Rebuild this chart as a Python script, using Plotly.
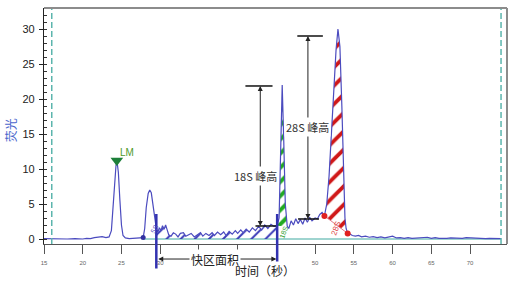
import numpy as np
import plotly.graph_objects as go

# ---- data ----
time_s = [15.0, 16.0, 17.0, 18.0, 19.0, 20.0, 20.5, 21.0, 21.5, 22.0, 22.5, 23.0, 23.4, 23.7, 23.9,
          24.1, 24.3, 24.45, 24.6, 24.8, 25.0, 25.2, 25.5, 26.0, 26.5, 27.0, 27.5, 27.8, 28.0, 28.2,
          28.45, 28.65, 28.85, 29.05, 29.25, 29.5, 29.7, 29.9, 30.1, 30.3, 30.5, 30.7, 30.9, 31.1,
          31.4, 31.7, 32.0, 32.3, 32.6, 33.0, 33.3, 33.7, 34.0, 34.4, 34.8, 35.2, 35.5, 35.9, 36.3,
          36.7, 37.0, 37.4, 37.8, 38.2, 38.5, 38.9, 39.3, 39.7, 40.0, 40.4, 40.7, 41.1, 41.5, 41.9,
          42.3, 42.7, 43.1, 43.5, 43.9, 44.3, 44.7, 45.1, 45.35, 45.55, 45.75, 45.95, 46.15, 46.4,
          46.6, 46.9, 47.2, 47.5, 47.8, 48.1, 48.4, 48.7, 49.0, 49.3, 49.6, 50.0, 50.3, 50.6, 50.9,
          51.2, 51.5, 51.8, 52.1, 52.4, 52.7, 52.95, 53.2, 53.45, 53.65, 53.85, 54.0, 54.2, 54.5,
          54.8, 55.2, 55.6, 56.0, 56.5, 57.0, 57.5, 58.0, 58.5, 59.0, 59.5, 60.0, 60.5, 61.0, 61.5,
          62.0, 62.5, 63.0, 63.5, 64.0, 64.5, 65.0, 65.5, 66.0, 66.5, 67.0, 67.5, 68.0, 68.5, 69.0,
          69.5, 70.0, 70.5, 71.0, 71.5, 72.0, 72.5, 73.0, 74.0]
fluor = [0.05, 0.0, 0.05, 0.0, 0.05, 0.0, 0.1, 0.05, 0.2, 0.25, 0.35, 0.2, 0.3, 1.2, 4.0,
         8.0, 10.6, 10.9, 9.5, 5.5, 2.0, 0.5, 0.15, 0.05, 0.1, 0.05, 0.15, 0.2, 1.5, 4.5,
         6.5, 7.0, 6.6, 5.0, 2.8, 1.5, 1.0, 1.6, 1.2, 1.9, 1.4, 2.0, 1.3, 0.6,
         0.4, 0.9, 0.7, 0.3, 0.8, 0.9, 0.4, 0.7, 0.8, 0.3, 0.6, 0.9, 0.4, 0.8, 0.5,
         0.9, 0.5, 1.0, 0.6, 1.0, 0.5, 1.1, 0.7, 1.2, 0.8, 1.3, 0.9, 1.4, 1.0, 1.6,
         1.2, 1.8, 1.3, 2.0, 1.5, 2.1, 1.8, 1.9, 3.0, 12.0, 22.0, 14.0, 5.0, 1.8,
         1.5, 2.6, 2.0, 2.9, 2.2, 2.8, 2.1, 3.0, 2.4, 3.1, 2.6, 3.0, 2.9, 3.5, 3.8,
         3.3, 5.0, 9.0, 15.0, 21.5, 27.0, 30.0, 27.5, 19.0, 9.0, 3.0, 1.5, 0.8, 0.7,
         0.5, 0.4, 0.5, 0.3, 0.4, 0.25, 0.35, 0.2, 0.3, 0.15, 0.3, 0.4, 0.15, 0.2, 0.1,
         0.2, 0.1, 0.15, 0.1, 0.15, 0.25, 0.1, 0.2, 0.1, 0.05, 0.1, 0.15, 0.1, 0.15, 0.1,
         0.2, 0.15, 0.1, 0.05, 0.1, 0.05, 0.1, 0.05, 0.05]

x_ticks = [15, 20, 25, 30, 35, 40, 45, 50, 55, 60, 65, 70]
# 35/40/45 are hidden behind the 快区面积 label and the region marker in the reference
x_tick_text = ["15", "20", "25", "30", "", "", "", "50", "55", "60", "65", "70"]
y_ticks = [0, 5, 10, 15, 20, 25, 30]

fast_region = [29.5, 45.1]          # 快区
s18_region = [45.1, 46.4]           # 18S peak
s28_region = [51.2, 54.2]           # 28S peak
lm_peak = [24.4, 11.2]
cursor_lines = [16.0, 74.0]
baseline_span = [27.8, 74.0]
s18_height = [1.86, 21.86]
s28_height = [2.86, 29.0]

X_RANGE = [15.0, 74.77]
Y_RANGE = [-0.714, 33.0]

t = np.array(time_s)
v = np.array(fluor)

def region(a, b):
    m = (t >= a - 1e-9) & (t <= b + 1e-9)
    return t[m], v[m]

def yp(val):
    return (val - Y_RANGE[0]) / (Y_RANGE[1] - Y_RANGE[0])

FONT = "Liberation Sans, Arial, Noto Sans CJK SC, sans-serif"
CJK = "Noto Sans CJK SC, sans-serif"
TRACE = "#4b4bbf"

fig = go.Figure()

# teal baseline
fig.add_trace(go.Scatter(x=baseline_span, y=[0, 0], mode="lines",
                         line=dict(color="#3fa9a0", width=1), hoverinfo="skip"))

# fast region hatch (blue)
ft, fv = region(*fast_region)
fig.add_trace(go.Scatter(x=np.r_[ft[0], ft, ft[-1]], y=np.r_[0, fv, 0], mode="lines",
                         line=dict(width=0), fill="toself", fillcolor="rgba(0,0,0,0)",
                         fillpattern=dict(shape="/", fgcolor="#3a3ab8", fgopacity=1,
                                          bgcolor="rgba(0,0,0,0)", size=10, solidity=0.2),
                         hoverinfo="skip"))
# 18S hatch (green)
gt, gv = region(*s18_region)
fig.add_trace(go.Scatter(x=gt, y=gv, mode="lines", line=dict(width=0), fill="toself",
                         fillcolor="rgba(0,0,0,0)",
                         fillpattern=dict(shape="/", fgcolor="#22aa22", fgopacity=1,
                                          bgcolor="rgba(0,0,0,0)", size=10, solidity=0.4),
                         hoverinfo="skip"))
# 28S hatch (red)
rt, rv = region(*s28_region)
fig.add_trace(go.Scatter(x=rt, y=rv, mode="lines", line=dict(width=0), fill="toself",
                         fillcolor="rgba(0,0,0,0)",
                         fillpattern=dict(shape="/", fgcolor="#d01818", fgopacity=1,
                                          bgcolor="rgba(0,0,0,0)", size=13, solidity=0.3),
                         hoverinfo="skip"))
# 28S chord
fig.add_trace(go.Scatter(x=[rt[0], rt[-1]], y=[rv[0], rv[-1]], mode="lines",
                         line=dict(color="#e07a8a", width=1), hoverinfo="skip"))

# main trace
fig.add_trace(go.Scatter(x=t, y=v, mode="lines", line=dict(color=TRACE, width=1.2),
                         hoverinfo="skip"))

# 28S markers
fig.add_trace(go.Scatter(x=[rt[0], rt[-1]], y=[rv[0], rv[-1]], mode="markers",
                         marker=dict(color="#e02020", size=6), hoverinfo="skip"))
# small blue marker at fast start
fig.add_trace(go.Scatter(x=[baseline_span[0]], y=[fluor[time_s.index(27.8)]], mode="markers",
                         marker=dict(color="#3030a0", size=5), hoverinfo="skip"))
# LM marker
fig.add_trace(go.Scatter(x=[lm_peak[0]], y=[lm_peak[1]], mode="markers",
                         marker=dict(symbol="triangle-down", color="#1d7f3a", size=11),
                         cliponaxis=False, hoverinfo="skip"))

# cursor dashed lines
for cx in cursor_lines:
    fig.add_trace(go.Scatter(x=[cx, cx], y=Y_RANGE, mode="lines",
                             line=dict(color="#5cb5ad", width=1.5, dash="6px,3px"),
                             hoverinfo="skip"))

# peak-height bars
for xa, xb, yy in [(41.0, 44.5, s18_height[1]), (42.3, 45.1, s18_height[0]),
                   (47.7, 51.0, s28_height[1]), (47.8, 50.5, s28_height[0])]:
    fig.add_trace(go.Scatter(x=[xa, xb], y=[yy, yy], mode="lines",
                             line=dict(color="#111111", width=1.5), hoverinfo="skip"))

ann = []
# height arrows
for xc, (lo, hi), ytxt, label, dx in [(42.92, s18_height, 9.0, "18S 峰高", 0.6),
                                      (49.07, s28_height, 16.0, "28S 峰高", 0.0)]:
    for head in (lo, hi):
        ann.append(dict(x=xc, y=head, ax=xc, ay=ytxt, axref="x", ayref="y", xref="x", yref="y",
                        text="", showarrow=True, arrowhead=2, arrowsize=1, arrowwidth=1,
                        arrowcolor="#222222", standoff=0))
    ann.append(dict(x=xc - dx, y=ytxt, xref="x", yref="y",
                    text=label, showarrow=False, bgcolor="white",
                    font=dict(family=CJK, size=11, color="#333333")))

# blue vertical fast-region limits
for xb, lo in [(fast_region[0], -4.43), (fast_region[1], -3.43)]:
    ann.append(dict(x=xb, y=3.57, ax=xb, ay=lo, axref="x", ayref="y", xref="x", yref="y",
                    text="", showarrow=True, arrowhead=0, arrowwidth=2.5,
                    arrowcolor="#3232b0", standoff=0))

# 快区面积 double arrow
ymid = yp(-2.86)
txt_x = 37.1
for end in fast_region:
    ann.append(dict(x=end + (0.25 if end < txt_x else -0.1), y=ymid, ax=txt_x, ay=0,
                    axref="x", ayref="pixel", xref="x", yref="paper", yanchor="middle",
                    text="", showarrow=True,
                    arrowhead=2, arrowsize=1, arrowwidth=1, arrowcolor="#222222", standoff=0))
ann.append(dict(x=txt_x, y=ymid, xref="x", yref="paper", xanchor="center", yanchor="middle",
                text="快区面积", showarrow=False,
                bgcolor="white", font=dict(family=CJK, size=12, color="#222222")))

# axis titles
ann.append(dict(x=43.5, y=yp(-4.57), xref="x", yref="paper", xanchor="center", yanchor="middle",
                text="时间（秒）", showarrow=False,
                font=dict(family=CJK, size=12, color="#222222")))
ann.append(dict(x=-0.073, y=0.483, xref="paper", yref="paper", xanchor="center",
                yanchor="middle", text="荧光", showarrow=False,
                textangle=-90, font=dict(family=CJK, size=12, color="#4a66cc")))

# LM and small peak labels
ann.append(dict(x=lm_peak[0] + 1.3, y=lm_peak[1] + 1.1, xref="x", yref="y", text="LM",
                showarrow=False, font=dict(family=FONT, size=10, color="#4f9a2a")))
ann.append(dict(x=45.9, y=1.0, xref="x", yref="y", text="18S", showarrow=False, textangle=-70,
                font=dict(family=FONT, size=7, color="#2ea02e")))
ann.append(dict(x=52.7, y=1.5, xref="x", yref="y", text="28S", showarrow=False, textangle=-70,
                font=dict(family=FONT, size=8, color="#e04545")))
ann.append(dict(x=29.3, y=1.5, xref="x", yref="y", text="5S", showarrow=False, textangle=-60,
                font=dict(family=FONT, size=7, color="#5a50c0")))

fig.update_layout(
    width=515, height=284, margin=dict(l=44, r=8, t=8, b=40),
    paper_bgcolor="white", plot_bgcolor="white", showlegend=False,
    font=dict(family=FONT),
    annotations=ann,
    shapes=[
        dict(type="line", xref="paper", yref="paper", x0=0, x1=1, y0=1, y1=1,
             line=dict(color="#8c8c8c", width=2)),
        dict(type="line", xref="paper", yref="paper", x0=1, x1=1, y0=0, y1=1,
             line=dict(color="#8c8c8c", width=2)),
    ],
)
fig.update_xaxes(range=X_RANGE, tickvals=x_ticks, ticktext=x_tick_text,
                 showgrid=False, zeroline=False, showline=True, linecolor="#555555",
                 linewidth=1.2, ticks="outside", ticklen=9, tickcolor="#555555",
                 tickfont=dict(size=6, color="#666666"), ticklabelstandoff=4)
fig.update_yaxes(range=Y_RANGE, tickvals=y_ticks, showgrid=False, zeroline=False,
                 showline=True, linecolor="#222222", linewidth=1.2, ticks="outside", ticklen=4,
                 tickcolor="#222222", tickfont=dict(size=11, color="#222222"),
                 ticklabelstandoff=2,
                 minor=dict(dtick=1, ticks="inside", ticklen=3, tickcolor="#333333"))

fig.write_html("out.html")
